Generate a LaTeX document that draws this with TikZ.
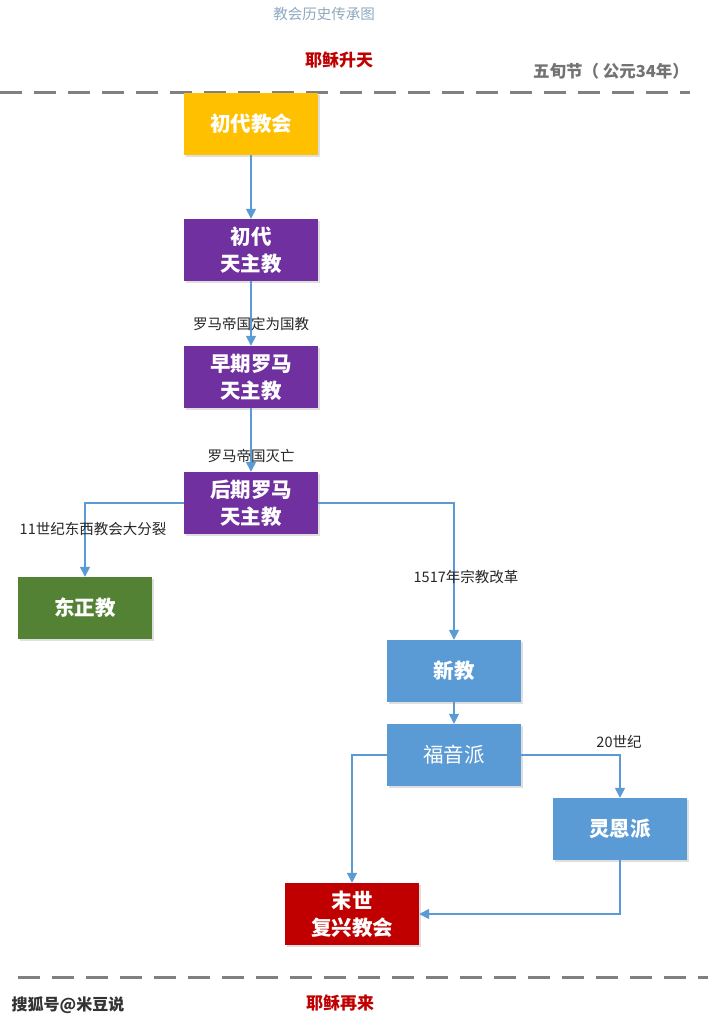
\documentclass[tikz,border=0pt]{standalone}
\usepackage{fontspec}
\setmainfont{Noto Sans CJK SC}
\usetikzlibrary{arrows.meta,shadows}

\definecolor{gold}{HTML}{FFC000}
\definecolor{violet}{HTML}{7030A0}
\definecolor{leaf}{HTML}{548235}
\definecolor{sky}{HTML}{5B9BD5}
\definecolor{crimson}{HTML}{C00000}
\definecolor{linkblue}{HTML}{5B9BD5}
\definecolor{titleblue}{HTML}{8EA9C1}

\begin{document}
\begin{tikzpicture}[x=1pt, y=-1pt,
    box/.style={minimum width=134pt, minimum height=62pt, inner sep=0pt,
      text=white, align=center, font=\fontsize{20.5}{27}\selectfont\bfseries,
      drop shadow={shadow xshift=1.5pt, shadow yshift=-1.5pt, opacity=0.25}},
    link/.style={draw=linkblue, line width=1.5pt, -{Triangle[length=10pt,width=10pt]}},
    note/.style={font=\fontsize{14.5}{16}\selectfont, text=black!85},
    border/.style={draw=black!50, line width=3pt, dash pattern=on 22pt off 12pt}]
  \useasboundingbox (0,0) rectangle (720,1025);
  \fill[white] (0,0) rectangle (720,1025);

  % heading and time marks
  \node[font=\fontsize{14.5}{17}\selectfont, text=titleblue] (title) at (324,14) {教会历史传承图};
  \node[font=\fontsize{17}{20}\selectfont\bfseries, text=crimson] (ascend) at (339,60) {耶稣升天};
  \node[font=\fontsize{16.5}{20}\selectfont\bfseries, text=black!55] (pentecost) at (611,71) {五旬节（ 公元34年）};
  \draw[border] (0,92) -- (690,92);
  \draw[border] (18,977) -- (708,977);

  % churches
  \node[box, fill=gold] (early) at (251,124) {初代教会};
  \node[box, fill=violet] (firstcath) at (251,250) {初代\\天主教};
  \node[box, fill=violet] (earlyrome) at (251,377) {早期罗马\\天主教};
  \node[box, fill=violet] (laterome) at (251,503) {后期罗马\\天主教};
  \node[box, fill=leaf] (orthodox) at (85,608) {东正教};
  \node[box, fill=sky] (protest) at (454,671) {新教};
  \node[box, fill=sky, font=\fontsize{20.5}{27}\selectfont] (evang) at (454,755) {福音派};
  \node[box, fill=sky] (pente) at (620,829) {灵恩派};
  \node[box, fill=crimson] (revival) at (352,914) {末世\\复兴教会};

  % connectors
  \draw[link] (early) -- (firstcath);
  \draw[link] (firstcath) -- (earlyrome);
  \draw[link] (earlyrome) -- (laterome);
  \draw[link] (laterome.west) -| (orthodox.north);
  \draw[link] (laterome.east) -| (protest.north);
  \draw[link] (protest) -- (evang);
  \draw[link] (evang.west) -| (revival.north);
  \draw[link] (evang.east) -| (pente.north);
  \draw[link] (pente.south) |- (revival.east);

  % connector labels
  \node[note] (edict) at (251,324) {罗马帝国定为国教};
  \node[note] (fall) at (251,456) {罗马帝国灭亡};
  \node[note] (schism) at (93,529) {11世纪东西教会大分裂};
  \node[note] (reform) at (466,577) {1517年宗教改革};
  \node[note] (century) at (619,742) {20世纪};

  % end mark and watermark
  \node[font=\fontsize{17}{20}\selectfont\bfseries, text=crimson] (return) at (340,1003) {耶稣再来};
  \node[font=\fontsize{16}{18}\selectfont\bfseries, text=black!80] (mark) at (68,1005) {搜狐号@米豆说};
\end{tikzpicture}
\end{document}
